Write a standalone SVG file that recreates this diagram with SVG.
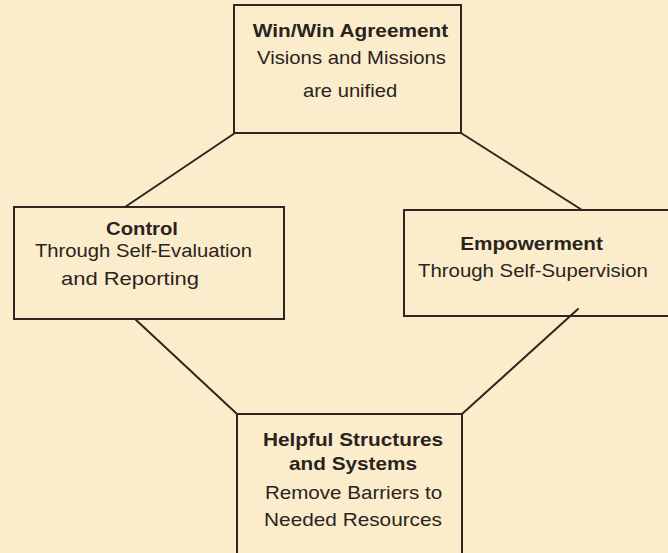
<svg xmlns="http://www.w3.org/2000/svg" width="668" height="553" viewBox="0 0 668 553">
  <style>
    .box { fill: none; stroke: #2e2620; stroke-width: 2; }
    .link { stroke: #2e2620; stroke-width: 2; fill: none; stroke-linecap: round; }
    text { font-family: "Liberation Sans", Arial, sans-serif; font-size: 17.5px; fill: #2a231e; text-anchor: middle; }
    .title { font-weight: bold; }
  </style>
  <rect x="0" y="0" width="668" height="553" fill="#fbedcb"/>

  <g id="connectors">
    <line class="link" x1="235" y1="133" x2="125" y2="207"/>
    <line class="link" x1="461" y1="133" x2="582" y2="210"/>
    <line class="link" x1="135" y1="319" x2="237" y2="414"/>
    <line class="link" x1="578" y1="309" x2="462" y2="414"/>
  </g>

  <!-- labels use a slightly widened face: each line is scaled 1.17x horizontally about its centre -->
  <g id="win-win">
    <rect class="box" x="234" y="5" width="227" height="128"/>
    <g transform="translate(350.5 0) scale(1.17 1)">
      <text class="title" x="0" y="37" textLength="167" lengthAdjust="spacingAndGlyphs">Win/Win Agreement</text>
    </g>
    <g transform="translate(351.5 0) scale(1.17 1)">
      <text x="0" y="64" textLength="161.5" lengthAdjust="spacingAndGlyphs">Visions and Missions</text>
    </g>
    <g transform="translate(350 0) scale(1.17 1)">
      <text x="0" y="97" textLength="80.5" lengthAdjust="spacingAndGlyphs">are unified</text>
    </g>
  </g>

  <g id="control">
    <rect class="box" x="14" y="207" width="270" height="112"/>
    <g transform="translate(142 0) scale(1.17 1)">
      <text class="title" x="0" y="235" textLength="61.5" lengthAdjust="spacingAndGlyphs">Control</text>
    </g>
    <g transform="translate(143.5 0) scale(1.17 1)">
      <text x="0" y="257" textLength="185.5" lengthAdjust="spacingAndGlyphs">Through Self-Evaluation</text>
    </g>
    <g transform="translate(130 0) scale(1.17 1)">
      <text x="0" y="285" textLength="118" lengthAdjust="spacingAndGlyphs">and Reporting</text>
    </g>
  </g>

  <g id="empowerment">
    <rect class="box" x="404" y="210" width="290" height="106"/>
    <g transform="translate(531.5 0) scale(1.17 1)">
      <text class="title" x="0" y="250" textLength="122" lengthAdjust="spacingAndGlyphs">Empowerment</text>
    </g>
    <g transform="translate(533 0) scale(1.17 1)">
      <text x="0" y="277" textLength="196.5" lengthAdjust="spacingAndGlyphs">Through Self-Supervision</text>
    </g>
  </g>

  <g id="structures">
    <rect class="box" x="237" y="414" width="225" height="160"/>
    <g transform="translate(353 0) scale(1.17 1)">
      <text class="title" x="0" y="446" textLength="154" lengthAdjust="spacingAndGlyphs">Helpful Structures</text>
      <text class="title" x="0" y="470" textLength="109.5" lengthAdjust="spacingAndGlyphs">and Systems</text>
      <text x="0" y="526" textLength="152" lengthAdjust="spacingAndGlyphs">Needed Resources</text>
    </g>
    <g transform="translate(353.5 0) scale(1.17 1)">
      <text x="0" y="499" textLength="151.5" lengthAdjust="spacingAndGlyphs">Remove Barriers to</text>
    </g>
  </g>
</svg>
